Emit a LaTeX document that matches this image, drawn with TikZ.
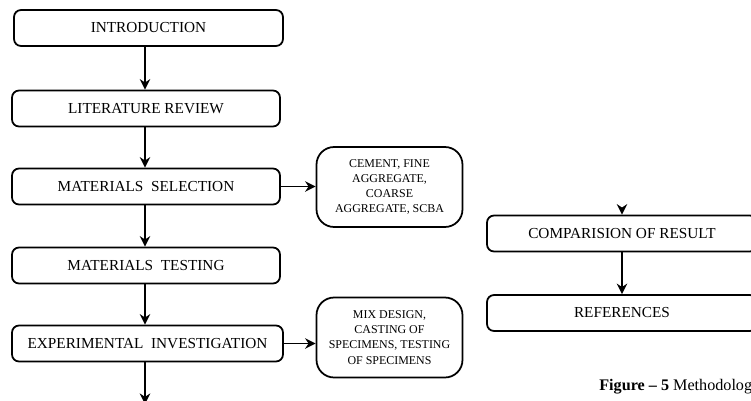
\documentclass[tikz,border=0pt]{standalone}
\usepackage{fontspec}
\setmainfont{Liberation Serif}
\usepackage{tikz}
\usetikzlibrary{arrows.meta, positioning, calc}

\begin{document}
\begin{tikzpicture}[
  x=0.02cm, y=-0.02cm,
  stage/.style={draw=black, line width=1pt, rounded corners=4pt, minimum width=5.36cm, minimum height=0.72cm, inner sep=0pt, align=center, font=\fontsize{8.7}{10}\selectfont},
  detail/.style={draw=black, line width=1pt, rounded corners=10pt, minimum width=2.92cm, minimum height=1.6cm, inner sep=0pt, align=center, font=\fontsize{6.8}{8.6}\selectfont},
  flow/.style={-{Stealth[length=6pt, width=6pt]}, line width=1pt}
]
  \useasboundingbox (0,0) rectangle (751,400);

  % main column
  \node[stage, minimum width=5.38cm] (intro) at (148.5, 28) {INTRODUCTION};
  \node[stage] (litrev) at (146, 108.5) {LITERATURE REVIEW};
  \node[stage] (matsel) at (146, 186.5) {MATERIALS\ \ SELECTION};
  \node[stage] (mattest) at (146, 265.5) {MATERIALS\ \ TESTING};
  \node[stage, minimum width=5.42cm] (expinv) at (147.5, 343.5) {EXPERIMENTAL\ \ INVESTIGATION};
  \coordinate (down) at (145, 404);

  % side boxes
  \node[detail] (materials) at (389.5, 187) {CEMENT, FINE\\AGGREGATE,\\COARSE\\AGGREGATE, SCBA};
  \node[detail] (works) at (389.5, 337.5) {MIX DESIGN,\\CASTING OF\\SPECIMENS, TESTING\\OF SPECIMENS};

  % right column
  \node[stage, minimum width=5.4cm] (comp) at (622, 233.5) {COMPARISION OF RESULT};
  \node[stage, minimum width=5.4cm] (refs) at (622, 313) {REFERENCES};
  \coordinate (intocomp) at (622, 208);

  \draw[flow] (intro.south -| 145,0) -- (litrev.north -| 145,0);
  \draw[flow] (litrev.south -| 145,0) -- (matsel.north -| 145,0);
  \draw[flow] (matsel.south -| 145,0) -- (mattest.north -| 145,0);
  \draw[flow] (mattest.south -| 145,0) -- (expinv.north -| 145,0);
  \draw[flow] (expinv.south -| down) -- (down);
  \draw[flow] (matsel.east) -- (matsel.east -| materials.west);
  \draw[flow] (expinv.east) -- (expinv.east -| works.west);
  \draw[flow] (intocomp) -- (comp.north);
  \draw[flow] (comp.south) -- (refs.north);

  \node[anchor=base west, inner sep=0pt, font=\fontsize{9.2}{11}\selectfont] (caption) at (599, 390) {\textbf{Figure -- 5} Methodolog};
\end{tikzpicture}
\end{document}
